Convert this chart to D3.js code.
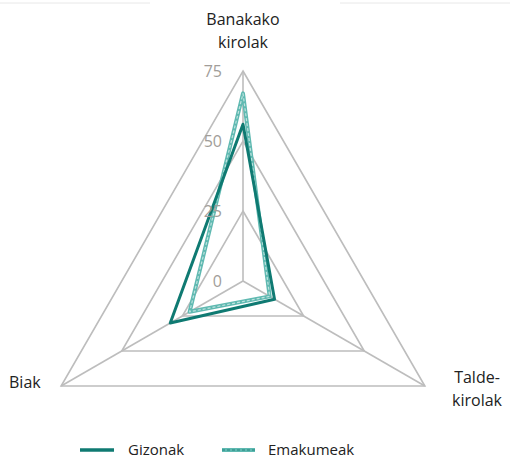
<!DOCTYPE html>
<html>
<head>
<meta charset="utf-8">
<script src="https://cdn.jsdelivr.net/npm/d3@7"></script>
<style>
  html, body { margin: 0; padding: 0; background: #fff; }
</style>
</head>
<body>
<svg id="chart" width="510" height="460"></svg>
<script>
// ─── Data ──────────────────────────────────────────────
const axisLabels = [["Banakako", "kirolak"], ["Talde-", "kirolak"], ["Biak"]];
const gizonak = [56, 13, 30];
const emakumeak = [67, 11, 22];
const tickValues = [0, 25, 50, 75];

// ─── Setup ─────────────────────────────────────────────
const width = 510, height = 460;
const cx = 243, cy = 281;
const svg = d3.select("#chart");
const font = "'Open Sans', 'Liberation Sans', sans-serif";

const r = d3.scaleLinear().domain([0, 75]).range([0, 210]);
const angle = d3.scaleLinear().domain([0, axisLabels.length]).range([0, 2 * Math.PI]);
const pt = (i, v) => {
  const a = angle(i) - Math.PI / 2;
  return [cx + r(v) * Math.cos(a), cy + r(v) * Math.sin(a)];
};

// faint frame remnants at top
svg.append("line").attr("x1", 0).attr("x2", 150).attr("y1", 3).attr("y2", 3)
  .attr("stroke", "#e8e8e8").attr("stroke-width", 1);
svg.append("line").attr("x1", 340).attr("x2", 510).attr("y1", 3).attr("y2", 3)
  .attr("stroke", "#e8e8e8").attr("stroke-width", 1);

const g = svg.append("g").attr("transform", `translate(${cx},${cy})`);

// ─── Grid ──────────────────────────────────────────────
const gridLine = d3.lineRadial().curve(d3.curveLinearClosed)
  .angle((d, i) => angle(i)).radius(d => r(d));

tickValues.filter(t => t > 0).forEach(t => {
  g.append("path")
    .datum(axisLabels.map(() => t))
    .attr("d", gridLine)
    .attr("fill", "none")
    .attr("stroke", "#bdbdbd")
    .attr("stroke-width", 1.6);
});

axisLabels.forEach((_, i) => {
  const [x, y] = pt(i, 75);
  g.append("line")
    .attr("x1", 0).attr("y1", 0)
    .attr("x2", x - cx).attr("y2", y - cy)
    .attr("stroke", "#bdbdbd")
    .attr("stroke-width", 1.6);
});

// tick labels
tickValues.forEach(t => {
  svg.append("text")
    .attr("x", cx - 21)
    .attr("y", cy - r(t))
    .attr("dy", "0.35em")
    .attr("text-anchor", "end")
    .attr("font-family", font)
    .attr("font-size", 16)
    .attr("fill", "#a19d99")
    .text(t);
});

// ─── Series ────────────────────────────────────────────
const seriesLine = d3.lineRadial().curve(d3.curveLinearClosed)
  .angle((d, i) => angle(i)).radius(d => r(d));

// Emakumeak: light teal double look
g.append("path").datum(emakumeak).attr("d", seriesLine)
  .attr("fill", "none").attr("stroke", "#5fb9b1").attr("stroke-width", 4)
  .attr("stroke-linejoin", "round");
g.append("path").datum(emakumeak).attr("d", seriesLine)
  .attr("fill", "none").attr("stroke", "#bfe3df").attr("stroke-width", 1.2)
  .attr("stroke-dasharray", "3 2");

// Gizonak: solid dark teal
g.append("path").datum(gizonak).attr("d", seriesLine)
  .attr("fill", "none").attr("stroke", "#0f7a72").attr("stroke-width", 3)
  .attr("stroke-linejoin", "round");

// ─── Axis labels ───────────────────────────────────────
const labelPos = [
  { x: 243, y: 25, anchor: "middle" },
  { x: 477, y: 383, anchor: "middle" },
  { x: 9, y: 388, anchor: "start" }
];
axisLabels.forEach((lines, i) => {
  const t = svg.append("text")
    .attr("x", labelPos[i].x).attr("y", labelPos[i].y)
    .attr("text-anchor", labelPos[i].anchor)
    .attr("font-family", font)
    .attr("font-size", 16)
    .attr("fill", "#222");
  lines.forEach((l, j) => {
    t.append("tspan").attr("x", labelPos[i].x).attr("dy", j === 0 ? 0 : 23).text(l);
  });
});

// ─── Legend ────────────────────────────────────────────
const legend = svg.append("g").attr("transform", "translate(0,450)");
legend.append("line").attr("x1", 80).attr("x2", 114).attr("y1", 0).attr("y2", 0)
  .attr("stroke", "#0f7a72").attr("stroke-width", 3.5);
legend.append("text").attr("x", 128).attr("y", 5)
  .attr("font-family", font).attr("font-size", 15).attr("fill", "#222").text("Gizonak");
legend.append("line").attr("x1", 222).attr("x2", 255).attr("y1", 0).attr("y2", 0)
  .attr("stroke", "#5fb9b1").attr("stroke-width", 4);
legend.append("line").attr("x1", 222).attr("x2", 255).attr("y1", 0).attr("y2", 0)
  .attr("stroke", "#3f9f97").attr("stroke-width", 2).attr("stroke-dasharray", "3 2");
legend.append("text").attr("x", 268).attr("y", 5)
  .attr("font-family", font).attr("font-size", 15).attr("fill", "#222").text("Emakumeak");
</script>
</body>
</html>
